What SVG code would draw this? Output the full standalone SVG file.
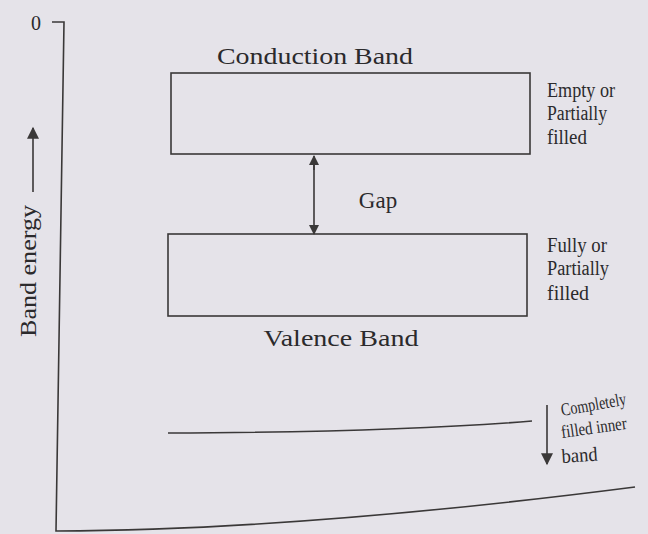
<svg xmlns="http://www.w3.org/2000/svg" width="648" height="534" viewBox="0 0 648 534">
<defs>
<marker id="ah" viewBox="0 0 10 10" refX="9" refY="5" markerWidth="10" markerHeight="10" markerUnits="userSpaceOnUse" orient="auto-start-reverse">
<path d="M0,0 L10,5 L0,10 z" fill="#3a3838"/>
</marker>
<marker id="ahb" viewBox="0 0 10 10" refX="9" refY="5" markerWidth="14" markerHeight="12" markerUnits="userSpaceOnUse" orient="auto-start-reverse">
<path d="M0,0 L10,5 L0,10 z" fill="#3a3838"/>
</marker>
</defs>
<style>
.t{font-family:"Liberation Serif","Times New Roman",serif;fill:#2b2a2c}
.big{font-size:23px}
.sm{font-size:20px}
.xs{font-size:18px}
.ln{stroke:#3a3838;stroke-width:1.6;fill:none}
</style>
<rect width="648" height="534" fill="#e5e3e9"/>
<g id="axis">
<text class="t" x="36" y="30" font-size="20" text-anchor="middle">0</text>
<path class="ln" d="M52,22 L64,22 L56,531 Q300,530 635,487"/>
<text class="t big" transform="translate(36,271) rotate(-90)" text-anchor="middle" textLength="132" lengthAdjust="spacingAndGlyphs">Band energy</text>
<line class="ln" x1="33" y1="192" x2="33" y2="128" marker-end="url(#ahb)"/>
</g>
<g id="conduction">
<rect class="ln" x="171" y="73" width="359" height="81"/>
<text class="t big" x="315" y="64" text-anchor="middle" textLength="196" lengthAdjust="spacingAndGlyphs">Conduction Band</text>
<text class="t sm" x="547" y="97" textLength="68" lengthAdjust="spacingAndGlyphs">Empty or</text>
<text class="t sm" x="547" y="120" textLength="60" lengthAdjust="spacingAndGlyphs">Partially</text>
<text class="t sm" x="547" y="144" textLength="40" lengthAdjust="spacingAndGlyphs">filled</text>
</g>
<g id="valence">
<rect class="ln" x="168" y="234" width="359" height="82"/>
<text class="t big" x="341" y="346" text-anchor="middle" textLength="155" lengthAdjust="spacingAndGlyphs">Valence Band</text>
<text class="t sm" x="547" y="252" textLength="60" lengthAdjust="spacingAndGlyphs">Fully or</text>
<text class="t sm" x="547" y="275" textLength="62" lengthAdjust="spacingAndGlyphs">Partially</text>
<text class="t sm" x="547" y="300" textLength="42" lengthAdjust="spacingAndGlyphs">filled</text>
</g>
<g id="gap">
<text class="t big" x="378" y="208" text-anchor="middle">Gap</text>
</g>
<g id="inner">
<path class="ln" d="M168,433 Q400,432 532,421"/>
<text class="t xs" transform="translate(562,416) rotate(-10)" textLength="66" lengthAdjust="spacingAndGlyphs">Completely</text>
<text class="t xs" transform="translate(562,438) rotate(-8)" textLength="66" lengthAdjust="spacingAndGlyphs">filled inner</text>
<text class="t sm" transform="translate(562,463) rotate(-4)" textLength="36" lengthAdjust="spacingAndGlyphs">band</text>
</g>
<g id="connectors">
<line class="ln" x1="314" y1="170" x2="314" y2="156" marker-end="url(#ah)"/>
<line class="ln" x1="314" y1="160" x2="314" y2="234" marker-end="url(#ah)"/>
<line class="ln" x1="547" y1="405" x2="547" y2="464" marker-end="url(#ahb)"/>
</g>
</svg>
